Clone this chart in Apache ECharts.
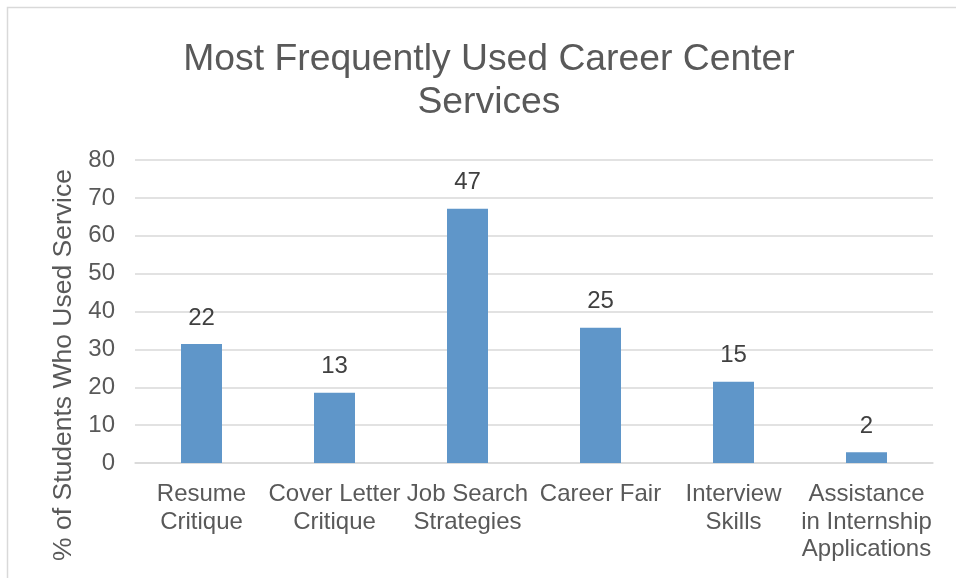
<!DOCTYPE html>
<html>
<head>
<meta charset="utf-8">
<title>Most Frequently Used Career Center Services</title>
<script src="https://cdn.jsdelivr.net/npm/echarts@6/dist/echarts.min.js"></script>
<style>
  html, body { margin: 0; padding: 0; background: #ffffff; }
  #chart { width: 956px; height: 578px; }
</style>
</head>
<body>
<div id="chart"></div>
<script>
// Career center services and how many surveyed students used each one
const categories = [
  'Resume\nCritique',
  'Cover Letter\nCritique',
  'Job Search\nStrategies',
  'Career Fair',
  'Interview\nSkills',
  'Assistance\nin Internship\nApplications'
];
const studentCounts = [22, 13, 47, 25, 15, 2];
const totalStudents = 70;
const yTicks = [0, 10, 20, 30, 40, 50, 60, 70, 80];

// Bar height is the share of students; the label shows the raw count
const percentUsed = studentCounts.map(c => c / totalStudents * 100);

const FONT = '"Liberation Sans", Arial, Helvetica, sans-serif';
const chart = echarts.init(document.getElementById('chart'), null, { renderer: 'canvas' });

chart.setOption({
  animation: false,
  backgroundColor: '#ffffff',
  textStyle: { fontFamily: FONT },
  title: {
    text: 'Most Frequently Used Career Center\nServices',
    left: 484,
    top: 33,
    textAlign: 'center',
    textStyle: {
      fontFamily: FONT,
      fontSize: 37.3,
      fontWeight: 'normal',
      color: '#595959',
      lineHeight: 43
    }
  },
  graphic: [
    {
      type: 'rect',
      shape: { x: 7.5, y: 7.5, width: 1000, height: 1000 },
      style: { fill: 'none', stroke: '#d9d9d9', lineWidth: 1.5 },
      silent: true
    },
    {
      type: 'text',
      x: 64,
      y: 365,
      rotation: Math.PI / 2,
      style: {
        text: '% of Students Who Used Service',
        fontFamily: FONT,
        fontSize: 26.5,
        fill: '#595959',
        align: 'center',
        verticalAlign: 'middle'
      },
      silent: true
    }
  ],
  grid: { left: 135, right: 23, top: 160, bottom: 115, containLabel: false },
  xAxis: {
    type: 'category',
    data: categories,
    axisLine: { show: true, lineStyle: { color: '#d9d9d9', width: 1.5 } },
    axisTick: { show: false },
    axisLabel: {
      interval: 0,
      margin: 18,
      fontFamily: FONT,
      fontSize: 24,
      lineHeight: 27.5,
      color: '#595959',
      verticalAlign: 'top'
    }
  },
  yAxis: {
    type: 'value',
    min: yTicks[0],
    max: yTicks[yTicks.length - 1],
    interval: yTicks[1] - yTicks[0],
    axisLine: { show: false },
    axisTick: { show: false },
    splitLine: { lineStyle: { color: '#d9d9d9', width: 1.5 } },
    axisLabel: {
      margin: 20,
      fontFamily: FONT,
      fontSize: 24,
      color: '#595959'
    }
  },
  series: [
    {
      type: 'bar',
      data: percentUsed,
      barWidth: 41,
      itemStyle: { color: '#5f96c9' },
      label: {
        show: true,
        position: 'top',
        distance: 14,
        fontFamily: FONT,
        fontSize: 24,
        color: '#404040',
        formatter: p => String(studentCounts[p.dataIndex])
      }
    }
  ]
});
</script>
</body>
</html>
